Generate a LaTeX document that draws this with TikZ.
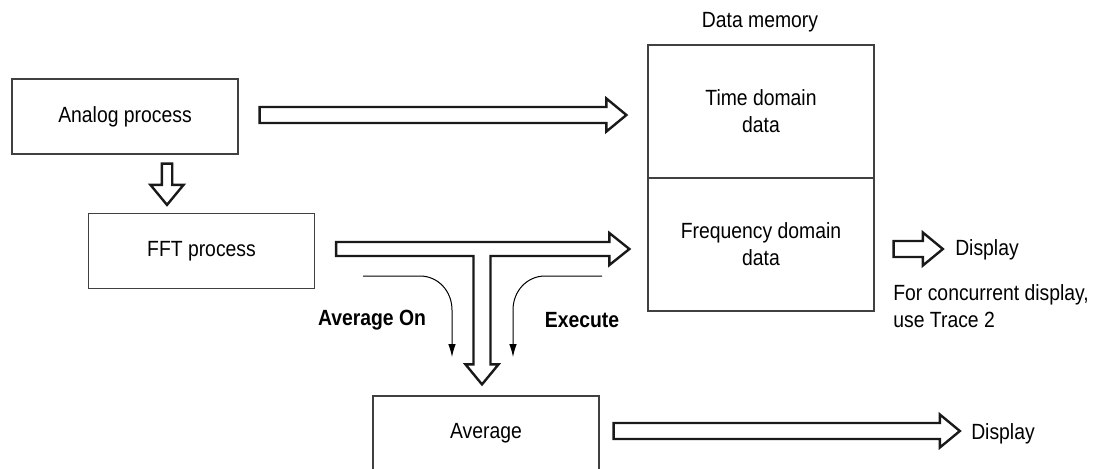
\documentclass[tikz,border=0pt]{standalone}
\usepackage{fontspec}
\setmainfont[FakeStretch=0.88]{Liberation Sans}
\usetikzlibrary{calc,arrows.meta}

\tikzset{
  procbox/.style={draw=black!75, line width=0.6pt, minimum width=113pt,
    minimum height=37.5pt, inner sep=0pt, align=center},
  memcell/.style={procbox, minimum height=66.5pt},
  blockarrow/.style={draw=black!90, line width=1.2pt, fill=white, line join=miter},
  flowline/.style={draw=black, line width=0.5pt, -{Latex[length=6.5pt,width=3.8pt]}},
  plaintext/.style={inner sep=0pt, align=left},
  cmdtext/.style={inner sep=0pt, font=\fontsize{11}{13}\selectfont\bfseries},
}

% block arrow pointing right, from #1 to the x of #2, shaft half-width #3
\newcommand{\rightblock}[3]{%
  \draw[blockarrow] let \p1=(#1), \p2=(#2) in
    (\x1,\y1+#3) -- (\x2-10pt,\y1+#3) -- (\x2-10pt,\y1+8.25pt) -- (\x2,\y1)
    -- (\x2-10pt,\y1-8.25pt) -- (\x2-10pt,\y1-#3) -- (\x1,\y1-#3) -- cycle;}
% block arrow pointing down, from #1 to the y of #2, shaft half-width #3
\newcommand{\downblock}[3]{%
  \draw[blockarrow] let \p1=(#1), \p2=(#2) in
    (\x1-#3,\y1) -- (\x1+#3,\y1) -- (\x1+#3,\y2+10pt) -- (\x1+8.25pt,\y2+10pt)
    -- (\x1,\y2) -- (\x1-8.25pt,\y2+10pt) -- (\x1-#3,\y2+10pt) -- cycle;}

\begin{document}
\begin{tikzpicture}[x=0.5pt, y=-0.5pt, font=\fontsize{11}{13.5}\selectfont]
  \useasboundingbox (0,0) rectangle (1100,468);

  % Processing blocks
  \node[procbox] (analog) at (125,116.5) {Analog process};
  \node[procbox] (fft) at (201.5,251) {FFT process};
  \node[procbox] (avg) at (486,433.5) {Average};

  % Data memory
  \node[memcell] (tdom) at (761,111.5) {Time domain\\data};
  \node[memcell] (fdom) at (761,244.5) {Frequency domain\\data};
  \node[plaintext] (memlabel) at (760,22) {Data memory};

  % Outputs
  \node[plaintext] (disp1) at (987,250) {Display};
  \node[plaintext, anchor=north west] (note) at (893,284) {For concurrent display,\\use Trace 2};
  \node[plaintext] (disp2) at (1003,434) {Display};

  % Analog to memory and to FFT
  \coordinate (a1s) at ($(analog.east)+(21,-1.5)$);
  \coordinate (a1e) at ($(tdom.west)+(-21,0)$);
  \rightblock{a1s}{a1e}{4pt}
  \coordinate (a2s) at ($(analog.south)+(42,9)$);
  \coordinate (a2e) at ($(fft.north)+(0,-8)$);
  \downblock{a2s}{a2e}{2.6pt}

  % FFT to memory and to Average
  \coordinate (ts) at ($(fft.east)+(21,-2)$);
  \coordinate (te) at ($(fdom.west)+(-18,0)$);
  \coordinate (tb) at ($(avg.north)+(-4,-11)$);
  \draw[blockarrow] let \p1=(ts), \p2=(te), \p3=(tb) in
    (\x1,\y1+3.5pt) -- (\x2-10pt,\y1+3.5pt) -- (\x2-10pt,\y1+8pt) -- (\x2,\y1)
    -- (\x2-10pt,\y1-8pt) -- (\x2-10pt,\y1-3.5pt) -- (\x3+4.25pt,\y1-3.5pt)
    -- (\x3+4.25pt,\y3+10pt) -- (\x3+8.25pt,\y3+10pt) -- (\x3,\y3)
    -- (\x3-8.25pt,\y3+10pt) -- (\x3-4.25pt,\y3+10pt) -- (\x3-4.25pt,\y1-3.5pt)
    -- (\x1,\y1-3.5pt) -- cycle;

  % Switches
  \coordinate (on1) at (363,276);
  \coordinate (on2) at (452,357);
  \draw[flowline] (on1) -- (420,276) .. controls (438,276) and (452,291) .. (452,310) -- (on2);
  \node[cmdtext] (avgon) at (372,320) {Average On};
  \coordinate (ex1) at (602,276);
  \coordinate (ex2) at (513,357);
  \draw[flowline] (ex1) -- (545,276) .. controls (527,276) and (513,291) .. (513,310) -- (ex2);
  \node[cmdtext] (exec) at (582,320) {Execute};

  % To display
  \coordinate (d1s) at ($(fdom.east)+(19,4.5)$);
  \coordinate (d1e) at ($(disp1.west)+(-12,0)$);
  \rightblock{d1s}{d1e}{4pt}
  \coordinate (d2s) at ($(avg.east)+(14,-2.5)$);
  \coordinate (d2e) at ($(disp2.west)+(-11,0)$);
  \rightblock{d2s}{d2e}{4pt}
\end{tikzpicture}
\end{document}
